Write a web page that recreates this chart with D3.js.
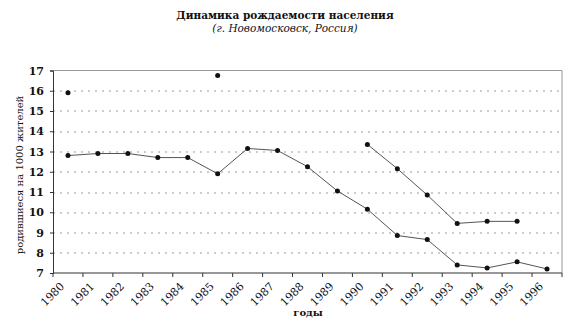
<!DOCTYPE html>
<html>
<head>
<meta charset="utf-8">
<title>Динамика рождаемости</title>
<style>
    body { margin: 0; background: #fff; }
    svg text { font-family: "DejaVu Serif", "Liberation Serif", serif; fill: #111; }
    .grid line { stroke: #999; stroke-dasharray: 2,5; }
    .axis path, .axis line { stroke: #333; }
    .series { fill: none; stroke: #555; stroke-width: 1; }
    .dot { fill: #111; }
</style>
</head>
<body>
<svg id="chart"></svg>
<script src="https://d3js.org/d3.v7.min.js"></script>
<script>
// years on the x axis
var years = ["1980", "1981", "1982", "1983", "1984", "1985", "1986", "1987", "1988",
             "1989", "1990", "1991", "1992", "1993", "1994", "1995", "1996"];
// main series, births per 1000
var lower = [12.8, 12.9, 12.9, 12.7, 12.7, 11.9, 13.15, 13.05, 12.25,
             11.05, 10.15, 8.85, 8.65, 7.4, 7.25, 7.55, 7.2];
// second series (gaps where not shown)
var upper = [15.9, null, null, null, null, 16.75, null, null, null,
             null, 13.35, 12.15, 10.85, 9.45, 9.55, 9.55, null];
var yTicks = [7, 8, 9, 10, 11, 12, 13, 14, 15, 16, 17];

var W = 572, H = 319;
var margin = { top: 70.5, right: 10, bottom: 46, left: 53 };
var width = 562 - margin.left, height = 273 - margin.top;

var svg = d3.select("#chart").attr("width", W).attr("height", H);

var x = d3.scaleBand().domain(years).range([0, width]);
var y = d3.scaleLinear().domain([7, 17]).range([height, 0]);

var g = svg.append("g").attr("transform", "translate(" + margin.left + "," + margin.top + ")");

// dotted grid
g.append("g").attr("class", "grid")
    .selectAll("line").data(yTicks.slice(1, -1)).enter().append("line")
    .attr("x1", 0).attr("x2", width)
    .attr("y1", function(d) { return Math.round(y(d)) + 0.5; })
    .attr("y2", function(d) { return Math.round(y(d)) + 0.5; });

// frame top/right
g.append("path")
    .attr("d", "M0," + y(17) + "H" + width + "V" + height)
    .attr("fill", "none").attr("stroke", "#999");

// x axis: ticks on band boundaries
var xa = g.append("g").attr("class", "axis")
    .attr("transform", "translate(0," + height + ")");
xa.append("line").attr("x1", 0).attr("x2", width);
xa.selectAll("line.tk").data(years.concat(["end"])).enter().append("line")
    .attr("class", "tk")
    .attr("x1", function(d, i) { return i * x.step(); })
    .attr("x2", function(d, i) { return i * x.step(); })
    .attr("y1", 0).attr("y2", 4);
xa.selectAll("text").data(years).enter().append("text")
    .attr("transform", function(d) {
        return "translate(" + (x(d) + 12) + ",14) rotate(-45)";
    })
    .attr("text-anchor", "end")
    .attr("font-size", 11)
    .text(function(d) { return d; });

// y axis
var ya = g.append("g").attr("class", "axis")
    .call(d3.axisLeft(y).tickValues(yTicks).tickSize(3).tickPadding(6));
ya.selectAll("text").attr("font-size", 11).attr("font-weight", "bold")
    .style("font-family", "'DejaVu Serif', serif");

var line = d3.line()
    .defined(function(d) { return d != null; })
    .x(function(d, i) { return x(years[i]) + x.bandwidth() / 2; })
    .y(function(d) { return y(d); });

[lower, upper].forEach(function(s) {
    g.append("path").datum(s).attr("class", "series").attr("d", line);
    g.selectAll(null).data(s.map(function(v, i) { return { v: v, i: i }; })
            .filter(function(d) { return d.v != null; }))
        .enter().append("circle").attr("class", "dot")
        .attr("cx", function(d) { return x(years[d.i]) + x.bandwidth() / 2; })
        .attr("cy", function(d) { return y(d.v); })
        .attr("r", 2.5);
});

// titles
svg.append("text").attr("x", 285).attr("y", 19).attr("text-anchor", "middle")
    .attr("font-size", 10.5).attr("font-weight", "bold")
    .text("Динамика рождаемости населения");
svg.append("text").attr("x", 285).attr("y", 32).attr("text-anchor", "middle")
    .attr("font-size", 10.5).attr("font-style", "italic")
    .text("(г. Новомосковск, Россия)");
svg.append("text")
    .attr("transform", "translate(23,175) rotate(-90)")
    .attr("text-anchor", "middle").attr("font-size", 10)
    .text("родившиеся на 1000 жителей");
svg.append("text").attr("x", 308).attr("y", 316).attr("text-anchor", "middle")
    .attr("font-size", 10).attr("font-weight", "bold")
    .text("годы");
</script>
</body>
</html>
